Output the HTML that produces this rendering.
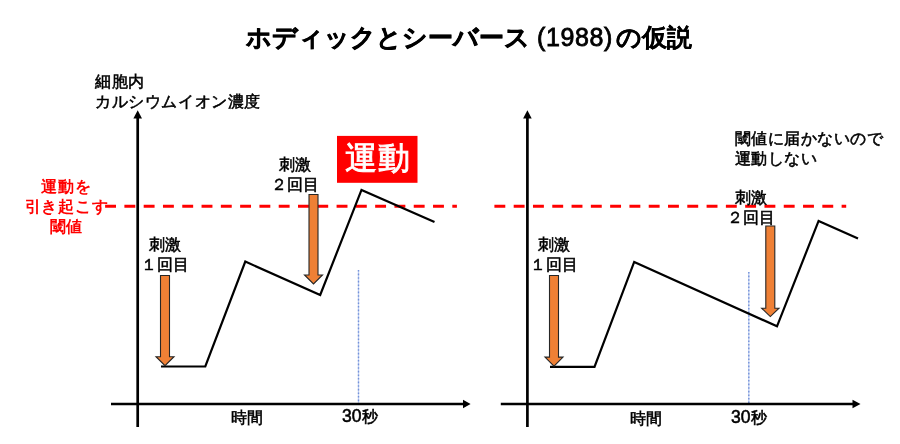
<!DOCTYPE html>
<html><head><meta charset="utf-8">
<style>
html,body{margin:0;padding:0;background:#fff;}
body{width:900px;height:444px;overflow:hidden;position:relative;font-family:"Liberation Sans",sans-serif;color:#000;}
svg{position:absolute;left:0;top:0;}
.t{position:absolute;white-space:nowrap;will-change:transform;line-height:20px;font-size:16px;-webkit-text-stroke:0.55px currentColor;}
.c{text-align:center;}
.ti{font-size:25px;font-weight:bold;line-height:32px;-webkit-text-stroke:0.6px #000;}
</style></head><body>
<svg width="900" height="444" viewBox="0 0 900 444">
  <!-- red dashed thresholds -->
  <g stroke="#ff0000" stroke-width="3" stroke-dasharray="10.9 8.39" fill="none">
    <line x1="105.1" y1="206.2" x2="456.9" y2="206.2"/>
    <line x1="494.4" y1="206.2" x2="846.2" y2="206.2"/>
  </g>
  <!-- blue dotted -->
  <g stroke="#c3d0f0" stroke-width="1.3" fill="none">
    <line x1="358.5" y1="270" x2="358.5" y2="403"/>
    <line x1="748.8" y1="272" x2="748.8" y2="403"/>
  </g>
  <g stroke="#7392da" stroke-width="1.4" stroke-dasharray="1.6 2" fill="none">
    <line x1="358.5" y1="270" x2="358.5" y2="403"/>
    <line x1="748.8" y1="272" x2="748.8" y2="403"/>
  </g>
  <!-- axes -->
  <g stroke="#000" stroke-width="2.7" fill="none">
    <line x1="137.7" y1="427" x2="137.7" y2="117"/>
    <line x1="111" y1="404" x2="464" y2="404"/>
    <line x1="527.4" y1="427" x2="527.4" y2="117"/>
    <line x1="500.8" y1="404" x2="854" y2="404"/>
  </g>
  <g fill="#000">
    <polygon points="137.7,110.3 142,118.6 133.4,118.6"/>
    <polygon points="470.6,404 463,399.8 463,408.2"/>
    <polygon points="527.4,110.3 531.7,118.6 523.1,118.6"/>
    <polygon points="860.5,404 852.5,399.8 852.5,408.2"/>
  </g>
  <!-- curves -->
  <g stroke="#000" stroke-width="2.2" fill="none" stroke-linejoin="miter">
    <polyline points="161,366.5 205.3,366.5 245.3,261.6 320.2,295 361.5,189.9 434.5,222"/>
    <polyline points="550,366.8 594.5,366.8 634.2,261.9 777,326.3 818.6,220.9 858,238.6"/>
  </g>
  <!-- orange arrows -->
  <g fill="#ef8035" stroke="#262626" stroke-width="1.1" stroke-linejoin="miter">
    <polygon points="160.5,275.5 169.5,275.5 169.5,356.7 174,356.7 165,365.7 156,356.7 160.5,356.7"/>
    <polygon points="309,194.5 318,194.5 318,275 322.5,275 313.5,284 304.5,275 309,275"/>
    <polygon points="549.5,275.5 558.5,275.5 558.5,357.1 563,357.1 554,366.1 545,357.1 549.5,357.1"/>
    <polygon points="765.8,226 774.8,226 774.8,308.2 779,308.2 770.3,316.6 761.6,308.2 765.8,308.2"/>
  </g>
  <!-- red box -->
  <rect x="337" y="135.9" width="80.5" height="46.9" fill="#ff0000"/>
</svg>

<div class="t ti" style="left:246px;top:21px;">ホディックとシーバース</div>
<div class="t ti" style="left:537px;top:21px;font-weight:normal;-webkit-text-stroke:0.8px #000;letter-spacing:0.6px;">(1988)</div>
<div class="t ti" style="left:616px;top:21px;-webkit-text-stroke:0.15px #000;">の仮説</div>

<div class="t" style="left:95px;top:71.5px;letter-spacing:0.6px;">細胞内<br>カルシウムイオン濃度</div>

<div class="t c" style="left:23.5px;top:177px;width:85px;color:#ff0000;font-weight:bold;letter-spacing:0.8px;-webkit-text-stroke:0;">運動を<br>引き起こす<br>閾値</div>

<div class="t c" style="left:135px;top:234.7px;width:60px;">刺激<br>１回目</div>
<div class="t c" style="left:264.5px;top:155px;width:60px;">刺激<br>２回目</div>
<div class="t c" style="left:524px;top:234.7px;width:60px;">刺激<br>１回目</div>
<div class="t c" style="left:720.5px;top:188.2px;width:60px;">刺激<br>２回目</div>

<div class="t" style="left:337px;top:134.5px;width:81.5px;height:46px;line-height:46px;text-align:center;color:#fff;font-size:32px;letter-spacing:1px;-webkit-text-stroke:0.9px #fff;">運動</div>

<div class="t" style="left:231px;top:407.5px;">時間</div>
<div class="t" style="left:341.5px;top:406px;"><span style="font-size:17.5px;letter-spacing:0.1px">30</span>秒</div>
<div class="t" style="left:630px;top:409px;">時間</div>
<div class="t" style="left:730.5px;top:407px;"><span style="font-size:17.5px;letter-spacing:0.1px">30</span>秒</div>

<div class="t" style="left:735px;top:129px;letter-spacing:0.45px;">閾値に届かないので<br>運動しない</div>
</body></html>
